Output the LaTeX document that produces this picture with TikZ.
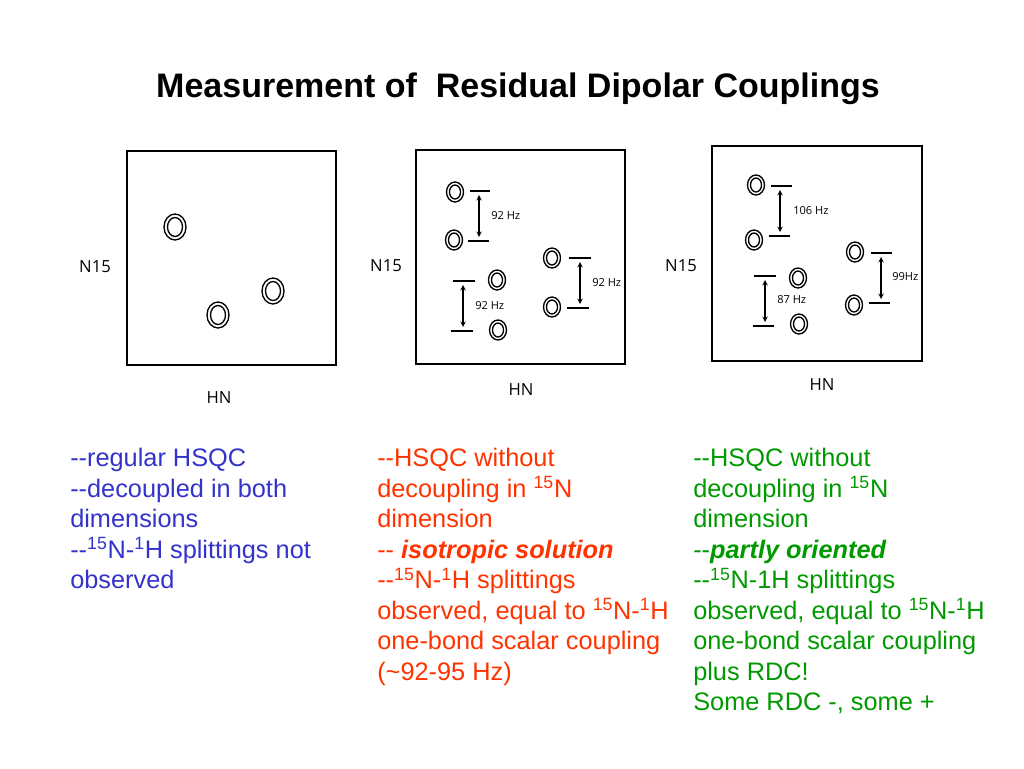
\documentclass[tikz,border=0pt]{standalone}
\usepackage{fontspec}
\setmainfont{Liberation Sans}
\newfontfamily\lblfont{Open Sans}
\definecolor{cblue}{RGB}{51,51,204}
\definecolor{cred}{RGB}{255,51,0}
\definecolor{cgreen}{RGB}{0,153,0}
\begin{document}
\begin{tikzpicture}[x=0.75pt,y=-0.75pt,
  panel/.style={draw,line width=1pt},
  axlbl/.style={font=\lblfont\fontsize{12.5}{13}\selectfont},
  hzlbl/.style={anchor=west,inner sep=0pt,font=\lblfont\fontsize{8.3}{9}\selectfont},
  tick/.style={line width=0.8pt},
  darr/.style={<->,>=stealth,line width=0.8pt},
  body/.style={anchor=north west,inner sep=0pt,align=left,font=\fontsize{19}{22.9}\selectfont}]
\useasboundingbox (0,0) rectangle (1024,768);
\newcommand{\pk}[3]{\node[inner sep=0pt,minimum size=0pt] (#1) at (#2,#3) {};
  \draw[line width=1pt] (#2,#3) ellipse [x radius=8.5,y radius=10];
  \draw[line width=1pt] (#2,#3) ellipse [x radius=5.5,y radius=7];}
\newcommand{\bpk}[3]{\node[inner sep=0pt,minimum size=0pt] (#1) at (#2,#3) {};
  \draw[line width=1pt] (#2,#3) ellipse [x radius=11,y radius=13];
  \draw[line width=1pt] (#2,#3) ellipse [x radius=7.5,y radius=9.5];}
\node[font=\bfseries\fontsize{25.5}{28}\selectfont] (title) at (518,89) {Measurement of\ \ Residual Dipolar Couplings};
% left panel
\draw[panel] (127,151) rectangle (336,365);
\bpk{a1}{175}{227}\bpk{a2}{218}{315}\bpk{a3}{273}{291}
\node[axlbl] (n1) at (95,267) {N15};
\node[axlbl] (h1) at (219,398) {HN};
% middle panel
\draw[panel] (416,150) rectangle (625,364);
\pk{b1}{455}{192}\pk{b2}{454}{240}\pk{b3}{552}{258}\pk{b4}{552}{307}\pk{b5}{497}{280}\pk{b6}{498}{330}
\draw[tick] (470,191) -- (490,191); \draw[tick] (468,241) -- (489,241);
\draw[darr] (479,195) -- (479,237); \node[hzlbl] (l1) at (491,216) {92 Hz};
\draw[tick] (569,258) -- (591,258); \draw[tick] (567,308) -- (589,308);
\draw[darr] (580,262) -- (580,304); \node[hzlbl] (l2) at (592,283) {92 Hz};
\draw[tick] (453,281) -- (475,281); \draw[tick] (451,331) -- (473,331);
\draw[darr] (463,285) -- (463,327); \node[hzlbl] (l3) at (475,306) {92 Hz};
\node[axlbl] (n2) at (386,266) {N15};
\node[axlbl] (h2) at (521,390) {HN};
% right panel
\draw[panel] (712,146) rectangle (922,361);
\pk{c1}{756}{185}\pk{c2}{754}{240}\pk{c3}{855}{252}\pk{c4}{854}{305}\pk{c5}{798}{278}\pk{c6}{799}{324}
\draw[tick] (771,186) -- (792,186); \draw[tick] (769,236) -- (790,236);
\draw[darr] (780,190) -- (780,232); \node[hzlbl] (l4) at (793,211) {106 Hz};
\draw[tick] (871,253) -- (892,253); \draw[tick] (869,303) -- (890,303);
\draw[darr] (881,257) -- (881,299); \node[hzlbl] (l5) at (892,277) {99Hz};
\draw[tick] (754,276) -- (776,276); \draw[tick] (753,326) -- (774,326);
\draw[darr] (765,280) -- (765,322); \node[hzlbl] (l6) at (777,300) {87 Hz};
\node[axlbl] (n3) at (681,266) {N15};
\node[axlbl] (h3) at (822,385) {HN};
% texts
\node[body,text=cblue] (t1) at (70,448) {{-}{-}regular HSQC\\{-}{-}decoupled in both\\dimensions\\{-}{-}\textsuperscript{15}N-\textsuperscript{1}H splittings not\\observed};
\node[body,text=cred] (t2) at (377,448) {{-}{-}HSQC without\\decoupling in \textsuperscript{15}N\\dimension\\{-}{-} \textbf{\textit{isotropic solution}}\\{-}{-}\textsuperscript{15}N-\textsuperscript{1}H splittings\\observed, equal to \textsuperscript{15}N-\textsuperscript{1}H\\one-bond scalar coupling\\(\textasciitilde92-95 Hz)};
\node[body,text=cgreen] (t3) at (693,448) {{-}{-}HSQC without\\decoupling in \textsuperscript{15}N\\dimension\\{-}{-}\textbf{\textit{partly oriented}}\\{-}{-}\textsuperscript{15}N-1H splittings\\observed, equal to \textsuperscript{15}N-\textsuperscript{1}H\\one-bond scalar coupling\\plus RDC!\\Some RDC -, some +};
\end{tikzpicture}
\end{document}
